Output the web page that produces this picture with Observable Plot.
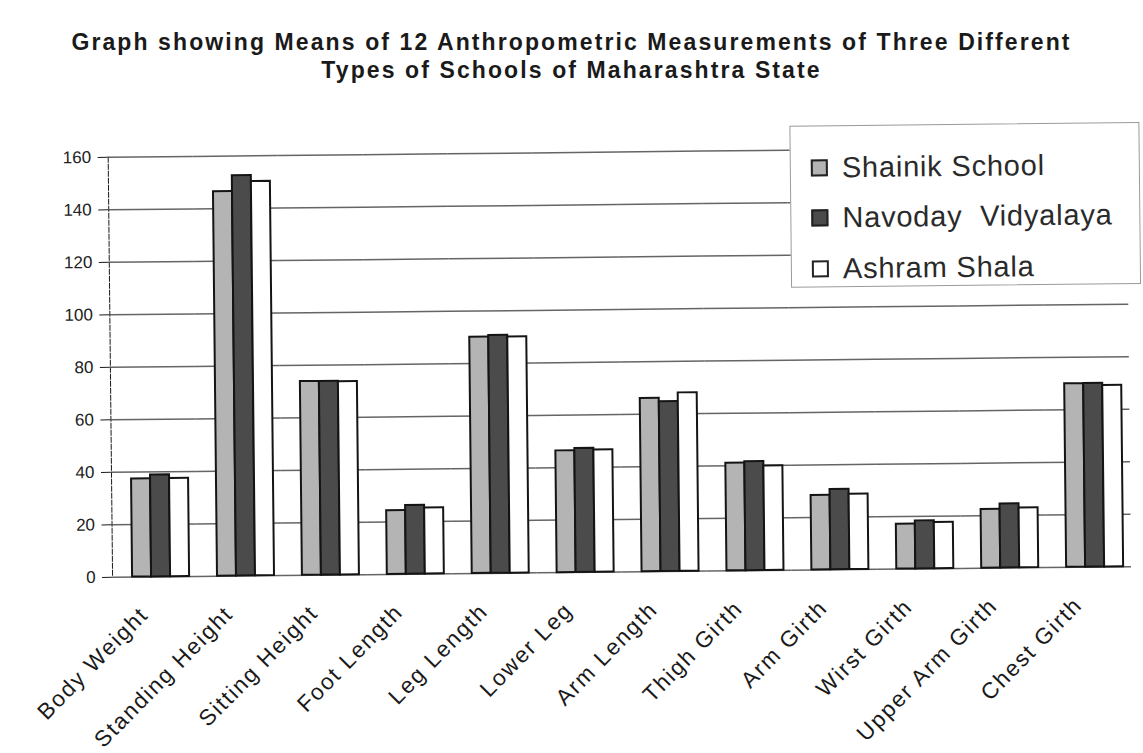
<!DOCTYPE html>
<html>
<head>
<meta charset="utf-8">
<script src="https://cdn.jsdelivr.net/npm/d3@7"></script>
<script src="https://cdn.jsdelivr.net/npm/@observablehq/plot@0.6"></script>
<style>
  html, body { margin: 0; background: #fff; overflow: hidden; }
  #wrap { position: relative; width: 1143px; height: 753px; font-family: "Liberation Sans", Arial, sans-serif; color: #1a1a1a; }
  #page {
    position: absolute; left: 0; top: 0; width: 1143px; height: 753px;
    transform: rotate(-0.6deg); transform-origin: 571px 376px;
  }
  .title {
    position: absolute; left: 0; width: 1143px; text-align: center;
    font-weight: bold; font-size: 23px; line-height: 23px; letter-spacing: 2.1px; white-space: nowrap;
  }
  #chart { position: absolute; left: 0; top: 100px; }
  #chart g[aria-label="y-axis tick label"] { font-size: 17px; fill: #222; }
  #chart g[aria-label="fx-axis tick label"] { letter-spacing: 1.8px; fill: #1a1a1a; }
  #chart [aria-label="frame"] { stroke: #6a6a6a; stroke-dasharray: 5 2; }
  #legend {
    position: absolute; left: 792px; top: 128px; width: 350px; height: 162px;
    box-sizing: border-box; border: 1px solid #9a9a9a; background: #fff;
    padding-top: 16px;
  }
  .item { display: flex; align-items: center; height: 50.5px; margin-left: 20px; }
  .sw { width: 17px; height: 17px; box-sizing: border-box; border: 2px solid #222; margin-right: 14px; }
  .lab { font-size: 29px; letter-spacing: 0.8px; color: #2a2a2a; white-space: pre; }
</style>
</head>
<body>
<div id="wrap">
  <div class="title" style="top:31px">Graph showing Means of 12 Anthropometric Measurements of Three Different</div>
  <div class="title" style="top:59px">Types of Schools of Maharashtra State</div>
  <div id="page">
    <div id="chart"></div>
    <div id="legend"></div>
  </div>
</div>
<script>
// Twelve anthropometric measurements (x categories)
const categories = [
  "Body Weight", "Standing Height", "Sitting Height", "Foot Length",
  "Leg Length", "Lower Leg", "Arm Length", "Thigh Girth",
  "Arm Girth", "Wirst Girth", "Upper Arm Girth", "Chest Girth"
];

// The three types of school (series)
const schools = ["Shainik School", "Navoday  Vidyalaya", "Ashram Shala"];

// Mean value of each measurement, one array per school
const shainik = [37.4, 146.5, 73.8, 24.3, 90, 46.4, 66, 41, 28.4, 17.1, 22.4, 69.9];
const navoday = [38.8, 152.5, 73.8, 26.2, 90.6, 47.2, 64.7, 41.5, 30.6, 18.3, 24.4, 70];
const ashram  = [37.4, 150.2, 73.6, 25.2, 90, 46.6, 68, 39.8, 28.7, 17.6, 22.8, 69.1];

// Value-axis ticks
const yTicks = [0, 20, 40, 60, 80, 100, 120, 140, 160];

const seriesValues = [shainik, navoday, ashram];
const rows = categories.flatMap((category, i) =>
  schools.map((school, j) => ({category, school, value: seriesValues[j][i]}))
);

const fills = ["#b4b4b4", "#4b4b4b", "#ffffff"];

const chart = Plot.plot({
  width: 1143,
  height: 653,
  marginTop: 52,
  marginBottom: 181,
  marginLeft: 110,
  marginRight: 14,
  style: {fontFamily: "'Liberation Sans', Arial, sans-serif", background: "transparent", overflow: "visible"},
  fx: {domain: categories, padding: 0, round: false, label: null},
  x: {domain: schools, axis: null, round: false, paddingInner: 0, paddingOuter: 0.734, align: 0.717},
  y: {domain: [0, 160], ticks: yTicks, label: null, tickSize: 10, tickPadding: 7, line: true},
  color: {domain: schools, range: fills},
  marks: [
    Plot.gridY(yTicks, {stroke: "#4a4a4a", strokeOpacity: 0.85, strokeWidth: 1.5}),
    Plot.barY(rows, {
      fx: "category", x: "school", y: "value",
      fill: "school", stroke: "#141414", strokeWidth: 2
    }),
    Plot.axisFx({
      anchor: "bottom", label: null, tickSize: 0, tickPadding: 34,
      tickRotate: -45, dx: -11, fontSize: 22.5
    })
  ]
});
document.getElementById("chart").appendChild(chart);

// Legend box listing the three schools
const legend = d3.select("#legend");
schools.forEach((school, j) => {
  const item = legend.append("div").attr("class", "item");
  item.append("div").attr("class", "sw").style("background", fills[j]);
  item.append("span").attr("class", "lab").text(school);
});
</script>
</body>
</html>
